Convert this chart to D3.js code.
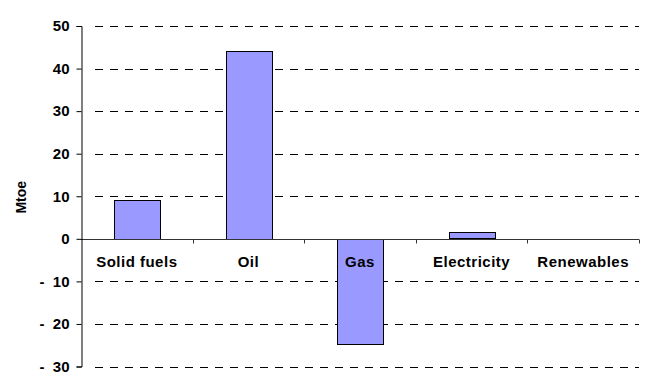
<!DOCTYPE html>
<html><head><meta charset="utf-8">
<script src="https://cdn.jsdelivr.net/npm/d3@7"></script>
<style>body{margin:0;background:#fff}svg{display:block}text{font-family:"Liberation Sans",Arial,sans-serif;font-weight:bold;font-size:15px;fill:#000}</style>
</head><body><svg id="c" width="650" height="374"></svg>
<script>
const categories = ["Solid fuels","Oil","Gas","Electricity","Renewables"];
const values = [9.2, 44.1, -24.7, 1.5, 0];
const yTicks = [50,40,30,20,10,0,-10,-20,-30];
const yLabel = "Mtoe";

const svg = d3.select("#c");
const x0 = 81, x1 = 639, yTop = 26, yBot = 366.5;
const x = d3.scaleBand().domain(categories).range([x0,x1]).paddingInner(0).paddingOuter(0);
const y = d3.scaleLinear().domain([-30,50]).range([yBot,yTop]);
const fmt = v => v < 0 ? "-  " + Math.abs(v) : String(v);

// gridlines
svg.append("g").selectAll("line").data(yTicks.filter(t=>t!==0)).join("line")
  .attr("x1", x0+14).attr("x2", x1).attr("y1", d=>Math.round(y(d))+0.5).attr("y2", d=>Math.round(y(d))+0.5)
  .attr("stroke","#000").attr("stroke-width",1).attr("stroke-dasharray","8,7");

// bars
const bw = x.bandwidth()*0.41;
svg.append("g").selectAll("rect").data(categories.map((c,i)=>({c,v:values[i]})).filter(d=>d.v!==0)).join("rect")
  .attr("x", d=>Math.round(x(d.c)+x.bandwidth()/2-bw/2)+0.5)
  .attr("width", Math.round(bw))
  .attr("y", d=>Math.round(y(Math.max(0,d.v)))+0.5)
  .attr("height", d=>Math.round(Math.abs(y(d.v)-y(0))))
  .attr("fill","#9999ff").attr("stroke","#000").attr("stroke-width",1);

// zero line with category ticks
const zy = Math.round(y(0))+0.5;
svg.append("line").attr("x1",x0).attr("x2",x1).attr("y1",zy).attr("y2",zy).attr("stroke","#333");
svg.append("g").selectAll("line").data(categories.slice(1).concat([null])).join("line")
  .attr("x1",(d,i)=>Math.round(x0+x.bandwidth()*(i+1))+0.5).attr("x2",(d,i)=>Math.round(x0+x.bandwidth()*(i+1))+0.5)
  .attr("y1",zy).attr("y2",zy+4).attr("stroke","#333");

// y axis
const ya = d3.axisLeft(y).tickValues(yTicks).tickSize(5).tickPadding(7).tickFormat(fmt);
const g = svg.append("g").attr("transform",`translate(${x0+0.5},0)`).call(ya);
g.select(".domain").attr("stroke","#000");
g.selectAll(".tick line").attr("stroke","#000");
g.selectAll(".tick text").style("font-size","15px").style("font-family","Liberation Sans, Arial, sans-serif").style("font-weight","bold").style("white-space","pre").attr("fill","#000");

// category labels
svg.append("g").selectAll("text").data(categories).join("text")
  .attr("x", d=>x(d)+x.bandwidth()/2).attr("y", zy+27.5).attr("text-anchor","middle")
  .style("letter-spacing","0.5px").text(d=>d);

// y label
svg.append("text").attr("transform",`translate(26,${(yTop+yBot)/2+1}) rotate(-90)`).attr("text-anchor","middle").style("font-size","14px").text(yLabel);
</script></body></html>
